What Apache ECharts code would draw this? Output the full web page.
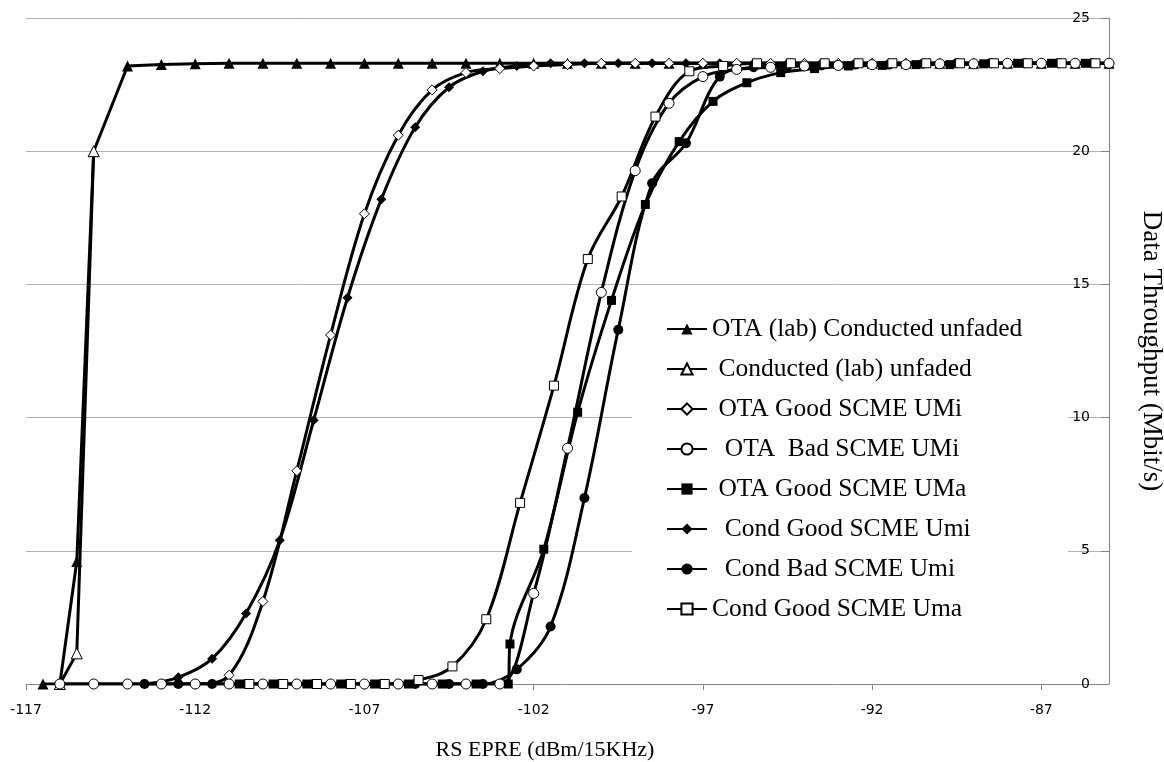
<!DOCTYPE html>
<html><head><meta charset="utf-8">
<script src="https://cdn.jsdelivr.net/npm/echarts@6/dist/echarts.min.js"></script>
<style>html,body{margin:0;padding:0;background:#fff}#c{width:1164px;height:762px}</style>
</head><body><div id="c"></div>
<script>
// ---- data ----
const xTickLabels = [-117, -112, -107, -102, -97, -92, -87];
const yTickLabels = [0, 5, 10, 15, 20, 25];
const seriesNames = [
  "OTA (lab) Conducted unfaded",
  " Conducted (lab) unfaded",
  " OTA Good SCME UMi",
  "  OTA  Bad SCME UMi",
  " OTA Good SCME UMa",
  "  Cond Good SCME Umi",
  "  Cond Bad SCME Umi",
  "Cond Good SCME Uma"
];
// OTA (lab) Conducted unfaded
const x1 = [-116.5,-116,-115.5,-115,-114,-113,-112,-111,-110,-109,-108,-107,-106,-105,-104,-103,-102,-101,-100,-99,-98,-97,-96,-95,-94,-93,-92,-91,-90,-89,-88,-87,-86,-85];
const y1 = [0,0,4.6,20,23.2,23.25,23.28,23.3,23.3,23.3,23.3,23.3,23.3,23.3,23.3,23.3,23.3,23.3,23.3,23.3,23.3,23.3,23.3,23.3,23.3,23.3,23.3,23.3,23.3,23.3,23.3,23.3,23.3,23.3];
// Conducted (lab) unfaded
const x2 = [-116,-115.5,-115];
const y2 = [0,1.15,20];
// OTA Good SCME UMi
const x3 = [-116,-115,-114,-113,-112,-111,-110,-109,-108,-107,-106,-105,-104,-103,-102,-101,-100,-99,-98,-97,-96,-95,-94,-93,-92,-91,-90,-89,-88,-87,-86,-85];
const y3 = [0,0,0,0,0,0.33,3.1,8.0,13.1,17.65,20.6,22.3,22.95,23.1,23.2,23.25,23.3,23.3,23.3,23.3,23.3,23.3,23.3,23.3,23.3,23.3,23.3,23.3,23.3,23.3,23.3,23.3];
// OTA Bad SCME UMi
const x4 = [-116,-115,-114,-113,-112,-111,-110,-109,-108,-107,-106,-105,-104,-103,-102,-101,-100,-99,-98,-97,-96,-95,-94,-93,-92,-91,-90,-89,-88,-87,-86,-85];
const y4 = [0,0,0,0,0,0,0,0,0,0,0,0,0,0,3.4,8.85,14.7,19.27,21.8,22.8,23.07,23.15,23.2,23.22,23.25,23.25,23.28,23.28,23.3,23.3,23.3,23.3];
// OTA Good SCME UMa
const x5 = [-110.7,-109.7,-108.7,-107.7,-106.7,-105.7,-104.7,-103.7,-102.75,-102.7,-101.7,-100.7,-99.7,-98.7,-97.7,-96.7,-95.7,-94.7,-93.7,-92.7,-91.7,-90.7,-89.7,-88.7,-87.7,-86.7,-85.7];
const y5 = [0,0,0,0,0,0,0,0,0,1.5,5.06,10.2,14.4,18.0,20.36,21.87,22.57,22.95,23.1,23.2,23.22,23.25,23.25,23.28,23.3,23.3,23.3];
// Cond Good SCME Umi
const x6 = [-113.5,-112.5,-111.5,-110.5,-109.5,-108.5,-107.5,-106.5,-105.5,-104.5,-103.5,-102.5,-101.5,-100.5,-99.5,-98.5,-97.5,-96.5,-95.5,-94.5,-93.5,-92.5,-91.5,-90.5,-89.5,-88.5,-87.5,-86.5,-85.5];
const y6 = [0,0.25,0.95,2.65,5.4,9.9,14.5,18.2,20.9,22.4,23.0,23.2,23.3,23.3,23.3,23.3,23.3,23.3,23.3,23.3,23.3,23.3,23.3,23.3,23.3,23.3,23.3,23.3,23.3];
// Cond Bad SCME Umi
const x7 = [-113.5,-112.5,-111.5,-110.5,-109.5,-108.5,-107.5,-106.5,-105.5,-104.5,-103.5,-102.5,-101.5,-100.5,-99.5,-98.5,-97.5,-96.5,-95.5,-94.5,-93.5,-92.5,-91.5,-90.5,-89.5,-88.5,-87.5,-86.5,-85.5];
const y7 = [0,0,0,0,0,0,0,0,0,0,0,0.55,2.16,6.98,13.3,18.8,20.3,22.8,23.15,23.2,23.22,23.25,23.25,23.28,23.3,23.3,23.3,23.3,23.3];
// Cond Good SCME Uma
const x8 = [-110.4,-109.4,-108.4,-107.4,-106.4,-105.4,-104.4,-103.4,-102.4,-101.4,-100.4,-99.4,-98.4,-97.4,-96.4,-95.4,-94.4,-93.4,-92.4,-91.4,-90.4,-89.4,-88.4,-87.4,-86.4,-85.4];
const y8 = [0,0,0,0,0,0.15,0.66,2.43,6.8,11.2,15.95,18.3,21.3,23.0,23.2,23.3,23.3,23.3,23.3,23.3,23.3,23.3,23.3,23.3,23.3,23.3];

const xs = [x1,x2,x3,x4,x5,x6,x7,x8];
const ys = [y1,y2,y3,y4,y5,y6,y7,y8];
const symbols = ['triangle','triangle','diamond','circle','rect','diamond','circle','rect'];
const hollow = [false,true,true,true,false,false,false,true];
const smoothOn = [false,false,true,true,true,true,true,true];

const chart = echarts.init(document.getElementById('c'), null, {renderer:'canvas'});
const series = xs.map((xv,i)=>({
  name: seriesNames[i],
  type: 'line',
  data: xv.map((x,j)=>[x, ys[i][j]]),
  smooth: smoothOn[i] ? 0.35 : false,
  symbol: symbols[i],
  symbolSize: symbols[i]==='triangle' ? 11 : (symbols[i]==='rect' ? 9 : 10),
  showSymbol: true,
  lineStyle: {color:'#000', width:3},
  itemStyle: hollow[i] ? {color:'#fff', borderColor:'#000', borderWidth:1} : {color:'#000', borderColor:'#000', borderWidth:0},
  emphasis: {disabled:true},
  animation: false
}));

chart.setOption({
  animation: false,
  backgroundColor: '#fff',
  grid: {left: 26, right: 55, top: 18, bottom: 78, outerBoundsMode: 'none', containLabel: false},
  xAxis: {
    type: 'value', min: -117, max: -85,
    name: 'RS EPRE (dBm/15KHz)', nameLocation: 'middle', nameGap: 55,
    nameTextStyle: {fontFamily: 'Liberation Serif', fontSize: 22, color: '#000', padding: [0, 45, 0, 0]},
    axisLine: {show: true, onZero: false, lineStyle: {color: '#868686', width: 1}},
    axisTick: {show: true, length: 6, lineStyle: {color: '#868686'}, customValues: xTickLabels},
    axisLabel: {fontFamily: 'DejaVu Sans', fontSize: 14, color: '#000', margin: 19, customValues: xTickLabels},
    splitLine: {show: false}
  },
  yAxis: {
    type: 'value', position: 'right', min: 0, max: 25, interval: 5,
    name: 'Data Throughput (Mbit/s)', nameLocation: 'middle', nameGap: 29, nameRotate: -90,
    nameTextStyle: {fontFamily: 'Liberation Serif', fontSize: 27, color: '#000'},
    axisLine: {show: true, lineStyle: {color: '#868686', width: 1}},
    axisTick: {show: true, inside: true, length: 8, lineStyle: {color: '#868686'}},
    axisLabel: {inside: true, fontFamily: 'DejaVu Sans', fontSize: 14, color: '#000', margin: 19,
      formatter: v => yTickLabels.includes(v) ? String(v) : ''},
    splitLine: {show: true, lineStyle: {color: '#b3b3b3', width: 1}}
  },
  legend: {
    orient: 'vertical', left: 632, top: 296,
    backgroundColor: '#fff',
    padding: [20, 46, 20, 34],
    itemWidth: 40, itemHeight: 14, itemGap: 14,
    textStyle: {fontFamily: 'Liberation Serif', fontSize: 25.5, color: '#000', lineHeight: 26},
    data: seriesNames,
    selectedMode: false
  },
  series: series
});
</script></body></html>
